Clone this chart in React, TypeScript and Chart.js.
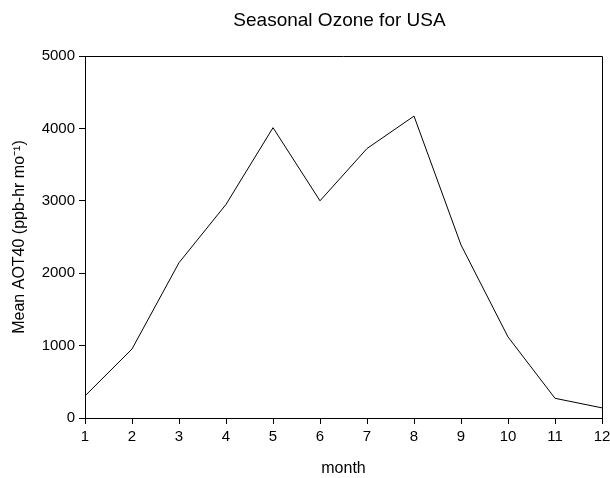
import React, { useEffect, useRef } from "react";
import { Chart, registerables } from "chart.js";

Chart.register(...registerables);

const months = [1, 2, 3, 4, 5, 6, 7, 8, 9, 10, 11, 12];
const aot40 = [305, 953, 2145, 2950, 4010, 3000, 3722, 4170, 2390, 1120, 272, 140];
const chartTitle = "Seasonal Ozone for USA";
const xTitle = "month";
const yTitle = "Mean AOT40 (ppb-hr mo\u207B\u00B9)";

const FONT = "'Liberation Sans', Arial, Helvetica, sans-serif";

export default function App() {
  const ref = useRef<HTMLCanvasElement | null>(null);
  useEffect(() => {
    if (!ref.current) return;
    const framePlugin = {
      id: "frame",
      afterDraw(chart: any) {
        const { ctx, chartArea } = chart;
        ctx.save();
        ctx.strokeStyle = "#000";
        ctx.lineWidth = 1;
        ctx.beginPath();
        ctx.moveTo(chartArea.left, chartArea.top + 0.5);
        ctx.lineTo(chartArea.right + 0.5, chartArea.top + 0.5);
        ctx.lineTo(chartArea.right + 0.5, chartArea.bottom);
        ctx.stroke();
        ctx.fillStyle = "#000";
        ctx.font = `19px ${FONT}`;
        ctx.textAlign = "center";
        ctx.textBaseline = "middle";
        ctx.fillText(chartTitle, (chartArea.left + chartArea.right) / 2 - 4, 21);
        ctx.restore();
      },
    };
    const chart = new Chart(ref.current, {
      type: "line",
      data: {
        datasets: [
          {
            data: months.map((m, i) => ({ x: m, y: aot40[i] })),
            borderColor: "#000",
            borderWidth: 1,
            pointRadius: 0,
            tension: 0,
            fill: false,
          },
        ],
      },
      options: {
        animation: false,
        responsive: false,
        devicePixelRatio: 1,
        layout: { padding: { left: 0, right: 0, top: 56, bottom: 0 } },
        plugins: { legend: { display: false }, tooltip: { enabled: false }, title: { display: false } },
        scales: {
          x: {
            type: "linear",
            min: 1,
            max: 12,
            afterFit: (s: any) => { s.height = 60; s.paddingRight = 8; s.paddingLeft = 0; },
            ticks: { stepSize: 1, color: "#000", font: { family: FONT, size: 15 }, padding: 4, maxRotation: 0, callback: (v: any) => String(v) },
            grid: { drawOnChartArea: false, tickLength: 6, color: "#000" },
            border: { display: true, color: "#000", width: 1 },
            title: { display: true, text: xTitle, color: "#000", font: { family: FONT, size: 16 }, padding: { top: 8, bottom: 0 } },
          },
          y: {
            min: 0,
            max: 5000,
            afterFit: (s: any) => { s.width = 85; },
            ticks: { stepSize: 1000, color: "#000", font: { family: FONT, size: 15 }, padding: 4, callback: (v: any) => String(v) },
            grid: { drawOnChartArea: false, tickLength: 6, color: "#000" },
            border: { display: true, color: "#000", width: 1 },
            title: { display: true, text: yTitle, color: "#000", font: { family: FONT, size: 16 }, padding: { top: 10, bottom: 4 } },
          },
        },
      },
      plugins: [framePlugin],
    });
    return () => chart.destroy();
  }, []);
  return (
    <div style={{ position: "fixed", left: 0, top: 0, width: 610, height: 478, background: "#fff" }}>
      <canvas ref={ref} width={610} height={478} style={{ width: 610, height: 478, display: "block" }} />
    </div>
  );
}
